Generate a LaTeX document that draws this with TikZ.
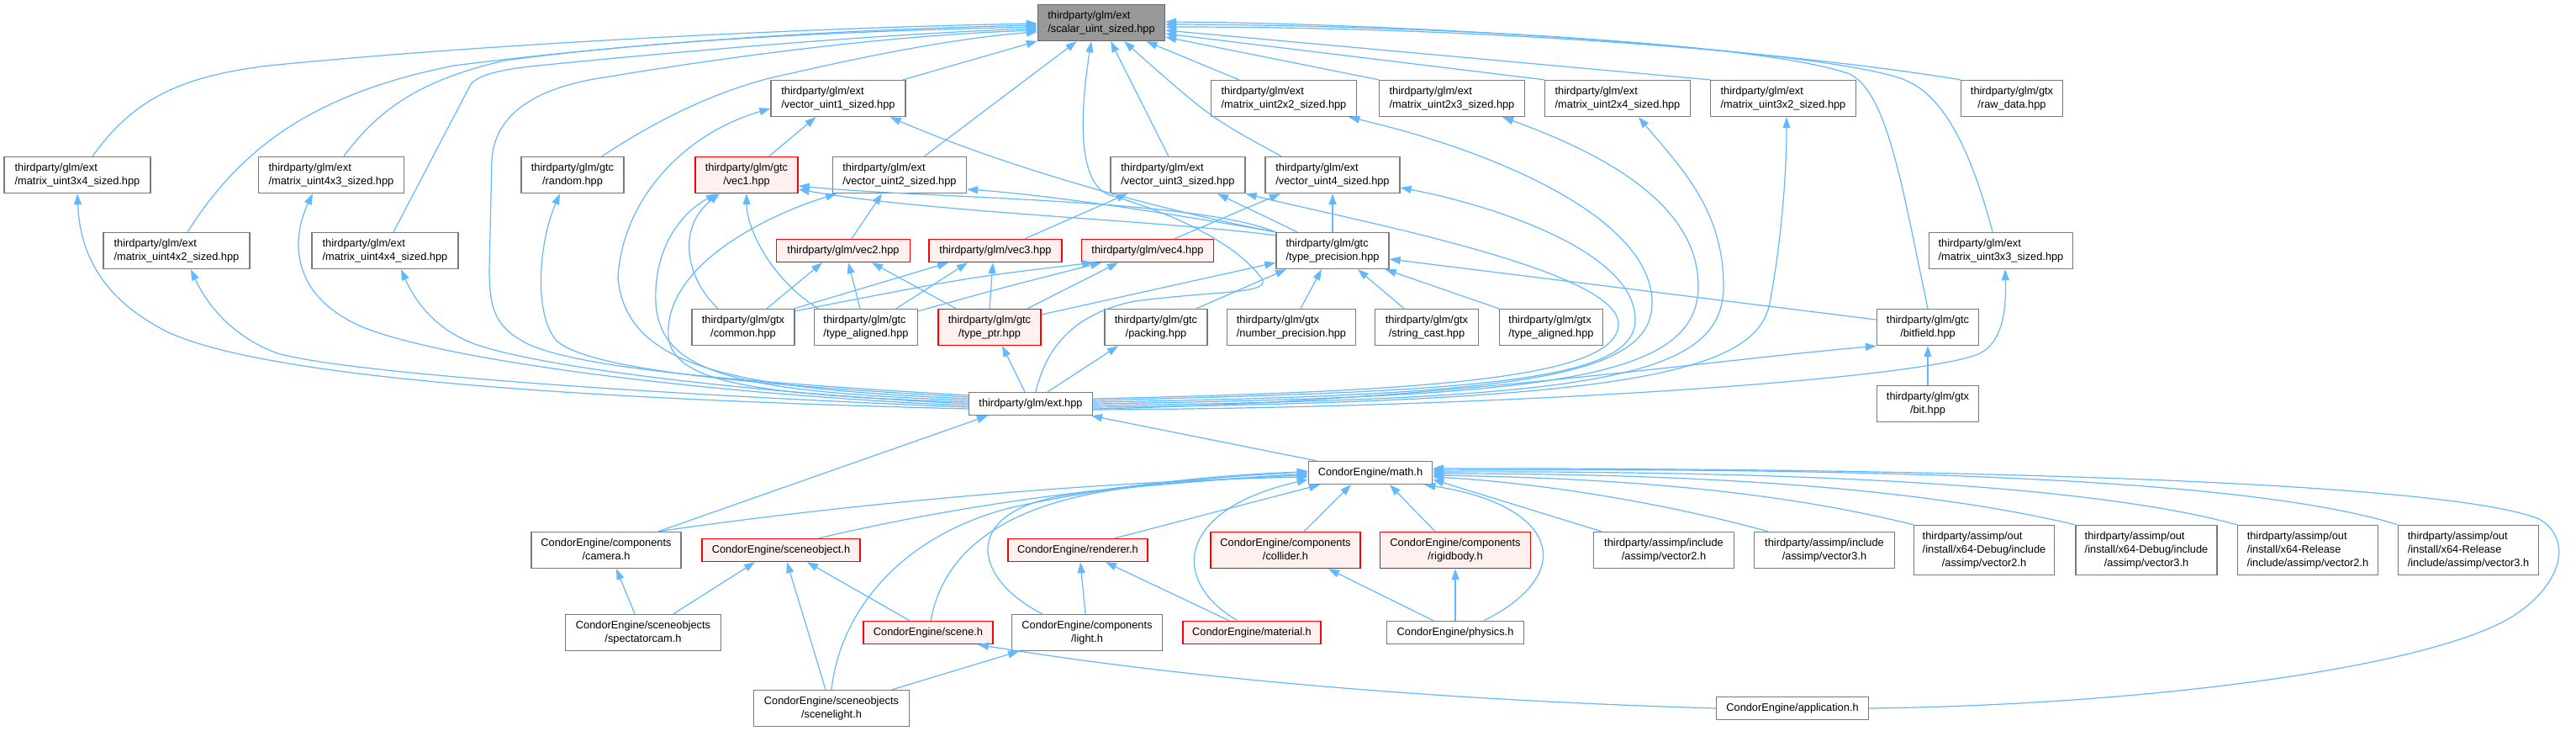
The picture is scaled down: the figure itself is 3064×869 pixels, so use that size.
\documentclass[tikz,border=0pt]{standalone}
\usepackage{fontspec}
\setmainfont{Liberation Sans}
\usetikzlibrary{arrows.meta}
\definecolor{edgeblue}{HTML}{63B8FF}
\definecolor{nborder}{HTML}{7A7A7A}
\definecolor{rootfill}{HTML}{999999}
\definecolor{rootborder}{HTML}{666666}
\definecolor{redfill}{HTML}{FFF0F0}
\definecolor{redborder}{HTML}{FF0000}
\newcommand\nodefont{\fontsize{12.8pt}{16pt}\selectfont}
\newcommand\twol[2]{\begin{tabular}{@{}l@{}}#1\\\multicolumn{1}{@{}c@{}}{#2}\end{tabular}}
\newcommand\threel[3]{\begin{tabular}{@{}l@{}}#1\\#2\\\multicolumn{1}{@{}c@{}}{#3}\end{tabular}}
\tikzset{
  nbox/.style={draw=nborder, fill=white, line width=1.4pt, inner sep=0pt, minimum height=43pt, font=\nodefont, align=center},
  rbox/.style={nbox, draw=redborder, fill=redfill},
  sline/.style={minimum height=27pt},
  tline/.style={minimum height=59pt},
  link/.style={draw=edgeblue, line width=1.2pt, -{Triangle[length=13pt,width=9pt]}}
}
\begin{document}
\begin{tikzpicture}[x=1pt,y=-1pt]
\useasboundingbox[fill=white] (0,0) rectangle (3064,869);
% ---------- nodes ----------
\node[nbox,minimum width=151pt,fill=rootfill,draw=rootborder] (scalar) at (1310,27) {\twol{thirdparty/glm/ext}{/scalar\_uint\_sized.hpp}};
\node[nbox,minimum width=160pt] (vu1) at (997,117) {\twol{thirdparty/glm/ext}{/vector\_uint1\_sized.hpp}};
\node[nbox,minimum width=173pt] (m2x2) at (1527,117) {\twol{thirdparty/glm/ext}{/matrix\_uint2x2\_sized.hpp}};
\node[nbox,minimum width=173pt] (m2x3) at (1727,117) {\twol{thirdparty/glm/ext}{/matrix\_uint2x3\_sized.hpp}};
\node[nbox,minimum width=173pt] (m2x4) at (1924,117) {\twol{thirdparty/glm/ext}{/matrix\_uint2x4\_sized.hpp}};
\node[nbox,minimum width=173pt] (m3x2) at (2121,117) {\twol{thirdparty/glm/ext}{/matrix\_uint3x2\_sized.hpp}};
\node[nbox,minimum width=121pt] (raw) at (2393,117) {\twol{thirdparty/glm/gtx}{/raw\_data.hpp}};
\node[nbox,minimum width=174pt] (m3x4) at (92,208) {\twol{thirdparty/glm/ext}{/matrix\_uint3x4\_sized.hpp}};
\node[nbox,minimum width=173pt] (m4x3) at (394,208) {\twol{thirdparty/glm/ext}{/matrix\_uint4x3\_sized.hpp}};
\node[nbox,minimum width=122pt] (random) at (681,208) {\twol{thirdparty/glm/gtc}{/random.hpp}};
\node[rbox,minimum width=122pt] (vec1) at (888,208) {\twol{thirdparty/glm/gtc}{/vec1.hpp}};
\node[nbox,minimum width=159pt] (vu2) at (1070,208) {\twol{thirdparty/glm/ext}{/vector\_uint2\_sized.hpp}};
\node[nbox,minimum width=160pt] (vu3) at (1401,208) {\twol{thirdparty/glm/ext}{/vector\_uint3\_sized.hpp}};
\node[nbox,minimum width=160pt] (vu4) at (1585,208) {\twol{thirdparty/glm/ext}{/vector\_uint4\_sized.hpp}};
\node[nbox,minimum width=174pt] (m4x2) at (210,298) {\twol{thirdparty/glm/ext}{/matrix\_uint4x2\_sized.hpp}};
\node[nbox,minimum width=174pt] (m4x4) at (458,298) {\twol{thirdparty/glm/ext}{/matrix\_uint4x4\_sized.hpp}};
\node[rbox,sline,minimum width=159pt] (vec2) at (1003,298) {thirdparty/glm/vec2.hpp};
\node[rbox,sline,minimum width=158pt] (vec3) at (1184,298) {thirdparty/glm/vec3.hpp};
\node[rbox,sline,minimum width=157pt] (vec4) at (1365,298) {thirdparty/glm/vec4.hpp};
\node[nbox,minimum width=134pt] (tprec) at (1585,298) {\twol{thirdparty/glm/gtc}{/type\_precision.hpp}};
\node[nbox,minimum width=171pt] (m3x3) at (2380,298) {\twol{thirdparty/glm/ext}{/matrix\_uint3x3\_sized.hpp}};
\node[nbox,minimum width=122pt] (common) at (884,389) {\twol{thirdparty/glm/gtx}{/common.hpp}};
\node[nbox,minimum width=123pt] (taligned) at (1030,389) {\twol{thirdparty/glm/gtc}{/type\_aligned.hpp}};
\node[rbox,minimum width=122pt] (tptr) at (1177,389) {\twol{thirdparty/glm/gtc}{/type\_ptr.hpp}};
\node[nbox,minimum width=122pt] (packing) at (1375,389) {\twol{thirdparty/glm/gtc}{/packing.hpp}};
\node[nbox,minimum width=153pt] (numprec) at (1536,389) {\twol{thirdparty/glm/gtx}{/number\_precision.hpp}};
\node[nbox,minimum width=123pt] (strcast) at (1697,389) {\twol{thirdparty/glm/gtx}{/string\_cast.hpp}};
\node[nbox,minimum width=123pt] (gtxta) at (1845,389) {\twol{thirdparty/glm/gtx}{/type\_aligned.hpp}};
\node[nbox,minimum width=121pt] (bitfield) at (2293,389) {\twol{thirdparty/glm/gtc}{/bitfield.hpp}};
\node[nbox,sline,minimum width=147pt] (ext) at (1226,480) {thirdparty/glm/ext.hpp};
\node[nbox,minimum width=121pt] (bit) at (2293,480) {\twol{thirdparty/glm/gtx}{/bit.hpp}};
\node[nbox,sline,minimum width=147pt] (math) at (1630,562) {CondorEngine/math.h};
\node[nbox,minimum width=178pt] (camera) at (721,654) {\twol{CondorEngine/components}{/camera.h}};
\node[rbox,sline,minimum width=188pt] (sceneobj) at (929,654) {CondorEngine/sceneobject.h};
\node[rbox,sline,minimum width=166pt] (renderer) at (1282,654) {CondorEngine/renderer.h};
\node[rbox,minimum width=178pt] (collider) at (1529,654) {\twol{CondorEngine/components}{/collider.h}};
\node[rbox,minimum width=179pt] (rigidbody) at (1731,654) {\twol{CondorEngine/components}{/rigidbody.h}};
\node[nbox,minimum width=167pt] (asv2) at (1979,654) {\twol{thirdparty/assimp/include}{/assimp/vector2.h}};
\node[nbox,minimum width=167pt] (asv3) at (2170,654) {\twol{thirdparty/assimp/include}{/assimp/vector3.h}};
\node[nbox,tline,minimum width=167pt] (dbg2) at (2360,654) {\threel{thirdparty/assimp/out}{/install/x64-Debug/include}{/assimp/vector2.h}};
\node[nbox,tline,minimum width=168pt] (dbg3) at (2553,654) {\threel{thirdparty/assimp/out}{/install/x64-Debug/include}{/assimp/vector3.h}};
\node[nbox,tline,minimum width=167pt] (rel2) at (2745,654) {\threel{thirdparty/assimp/out}{/install/x64-Release}{/include/assimp/vector2.h}};
\node[nbox,tline,minimum width=167pt] (rel3) at (2936,654) {\threel{thirdparty/assimp/out}{/install/x64-Release}{/include/assimp/vector3.h}};
\node[nbox,minimum width=185pt] (spect) at (765,752) {\twol{CondorEngine/sceneobjects}{/spectatorcam.h}};
\node[rbox,sline,minimum width=154pt] (scene) at (1104,752) {CondorEngine/scene.h};
\node[nbox,minimum width=179pt] (light) at (1293,752) {\twol{CondorEngine/components}{/light.h}};
\node[rbox,sline,minimum width=164pt] (material) at (1489,752) {CondorEngine/material.h};
\node[nbox,sline,minimum width=163pt] (physics) at (1731,752) {CondorEngine/physics.h};
\node[nbox,minimum width=185pt] (scenelight) at (989,842) {\twol{CondorEngine/sceneobjects}{/scenelight.h}};
\node[nbox,sline,minimum width=181pt] (app) at (2132,842) {CondorEngine/application.h};
% ---------- edges into scalar ----------
\draw[link] ([xshift=18pt]m3x4.north) .. controls (160,115) and (220,90) .. (320,78) .. controls (600,50) and (1000,32) .. ([yshift=-1pt]scalar.west);
\draw[link] ([xshift=13pt]m4x2.north) .. controls (290,170) and (380,110) .. (540,78) .. controls (800,45) and (1050,34) .. ([yshift=-3pt]scalar.west);
\draw[link] ([xshift=15pt]m4x3.north) .. controls (450,130) and (500,95) .. (600,72) .. controls (800,45) and (1050,36) .. ([yshift=-5pt]scalar.west);
\draw[link] ([xshift=10pt]m4x4.north) -- (560,100) .. controls (570,88) and (600,82) .. (640,78) .. controls (800,62) and (1050,40) .. ([yshift=-7pt]scalar.west);
\draw[link] ([yshift=10pt]ext.west) .. controls (900,455) and (700,440) .. (630,410) .. controls (590,390) and (582,370) .. (582,320) -- (585,190) .. controls (588,140) and (630,105) .. (719,92) .. controls (850,70) and (1050,42) .. ([yshift=-9pt]scalar.west);
\draw[link] ([xshift=35pt]random.north) .. controls (770,150) and (850,105) .. (942,87) .. controls (1050,62) and (1150,44) .. ([yshift=-11pt]scalar.west);
\draw[link] (vu1) -- (scalar);
\draw[link] (vu2) -- (scalar);
\draw[link] (vu3) -- (scalar);
\draw[link] ([xshift=20pt]vu4.north west) .. controls (1440,140) .. ([xshift=27pt]scalar.south);
\draw[link] (m2x2) -- (scalar);
\draw[link] (m2x3.north west) -- ([yshift=-17pt]scalar.east);
\draw[link] (m2x4.north west) -- ([yshift=-13pt]scalar.east);
\draw[link] (m3x2.north west) -- ([yshift=-9pt]scalar.east);
\draw[link] (raw.north west) .. controls (2150,65) and (1800,32) .. ([yshift=-5pt]scalar.east);
\draw[link] (bitfield.north) .. controls (2262,220) and (2245,110) .. (2200,88) .. controls (2100,52) and (1700,30) .. ([yshift=-2pt]scalar.east);
\draw[link] ([xshift=-10pt]m3x3.north) .. controls (2350,200) and (2320,120) .. (2270,97) .. controls (2200,62) and (1700,28) .. ([yshift=1pt]scalar.east);
\draw[link] ([xshift=6pt]ext.north) .. controls (1245,410) and (1280,372) .. (1350,358) .. controls (1450,345) and (1515,350) .. (1500,330) .. controls (1470,290) and (1400,255) .. (1320,232) .. controls (1285,220) and (1282,150) .. ([xshift=-12pt]scalar.south);
% ---------- ext fan, left ----------
\draw[link] ([yshift=8pt]ext.west) .. controls (900,458) and (700,440) .. (662,405) .. controls (635,375) and (640,290) .. ([xshift=-15pt]random.south);
\draw[link] ([yshift=6pt]ext.west) .. controls (880,462) and (745,440) .. (735,330) .. controls (740,240) and (810,160) .. ([yshift=-12pt]vu1.west);
\draw[link] ([yshift=4pt]ext.west) .. controls (880,466) and (785,445) .. (780,360) .. controls (777,290) and (815,250) .. ([xshift=-35pt]vec1.south);
\draw[link] ([yshift=2pt]ext.west) .. controls (900,470) and (800,455) .. (795,400) .. controls (790,320) and (900,260) .. ([xshift=-75pt]vu2.south);
\draw[link] (ext.west) .. controls (900,468) and (620,435) .. (555,405) .. controls (510,385) and (490,350) .. ([xshift=19pt]m4x4.south);
\draw[link] ([yshift=-2pt]ext.west) .. controls (850,470) and (480,425) .. (410,378) .. controls (345,340) and (348,280) .. ([xshift=-22pt]m4x3.south);
\draw[link] ([yshift=-4pt]ext.west) .. controls (800,470) and (420,445) .. (330,420) .. controls (275,400) and (245,360) .. ([xshift=17pt]m4x2.south);
\draw[link] ([yshift=-6pt]ext.west) .. controls (700,475) and (320,450) .. (200,395) .. controls (120,355) and (95,300) .. (m3x4.south);
% ---------- ext fan, right ----------
\draw[link] ([yshift=6pt]ext.east) .. controls (1700,465) and (1925,450) .. (1925,385) .. controls (1925,320) and (1600,260) .. (vu3.south east);
\draw[link] ([yshift=4pt]ext.east) .. controls (1750,465) and (1945,455) .. (1945,380) .. controls (1945,300) and (1780,245) .. ([yshift=-15pt]vu4.east);
\draw[link] ([yshift=2pt]ext.east) .. controls (1800,470) and (1965,450) .. (1965,360) .. controls (1965,260) and (1780,180) .. ([xshift=-10pt]m2x2.south east);
\draw[link] (ext.east) .. controls (1850,472) and (2020,450) .. (2020,340) .. controls (2020,240) and (1900,180) .. ([xshift=60pt]m2x3.south);
\draw[link] ([yshift=-2pt]ext.east) .. controls (1900,475) and (2050,450) .. (2050,340) .. controls (2050,250) and (2000,200) .. ([xshift=25pt]m2x4.south);
\draw[link] ([yshift=-4pt]ext.east) .. controls (1950,478) and (2090,440) .. (2105,360) .. controls (2120,280) and (2125,200) .. ([xshift=4pt]m3x2.south);
\draw[link] ([yshift=-6pt]ext.east) .. controls (1700,478) and (2000,432) .. (bitfield.south west);
\draw[link] ([yshift=-7pt]ext.east) .. controls (1800,485) and (2290,450) .. (2355,420) .. controls (2385,405) and (2386,360) .. ([xshift=5pt]m3x3.south);
\draw[link] ([xshift=-7pt]ext.north) -- ([xshift=15pt]tptr.south);
\draw[link] ([xshift=20pt]ext.north) -- ([xshift=-45pt]packing.south);
\draw[link] (bit) -- (bitfield);
\draw[link] ([yshift=9pt]bitfield.west) -- ([yshift=-10pt]tprec.east);
% ---------- type_precision ----------
\draw[link] (tprec.north) -- (vu4.south);
\draw[link] ([xshift=-42pt]tprec.north) -- ([xshift=47pt]vu3.south);
\draw[link] (tprec.north west) .. controls (1400,255) and (1250,232) .. ([yshift=-17pt]vu2.east);
\draw[link] (tprec.north west) .. controls (1380,250) and (1200,200) .. ([xshift=-19pt]vu1.south east);
\draw[link] (tprec.north west) .. controls (1420,236) and (1100,236) .. ([yshift=-13pt]vec1.east);
\draw[link] ([yshift=-4pt]tprec.north west) .. controls (1380,262) and (1100,252) .. ([yshift=-17pt]vec1.east);
\draw[link] ([xshift=48pt]packing.north) -- ([xshift=-55pt]tprec.south);
\draw[link] ([xshift=11pt]numprec.north) -- ([xshift=-13pt]tprec.south);
\draw[link] ([xshift=-27pt]strcast.north) -- ([xshift=30pt]tprec.south);
\draw[link] (gtxta.north west) -- ([xshift=-5pt]tprec.south east);
% ---------- vec / vector_uint ----------
\draw[link] (vec1) -- (vu1);
\draw[link] ([xshift=10pt]vec2.north) -- ([xshift=-21pt]vu2.south);
\draw[link] ([xshift=35pt]vec3.north) -- ([xshift=-60pt]vu3.south);
\draw[link] ([xshift=32pt]vec4.north) -- ([xshift=-62pt]vu4.south);
% ---------- common / type_aligned / type_ptr ----------
\draw[link] ([xshift=-30pt]common.north) .. controls (815,330) and (805,270) .. ([xshift=-32pt]vec1.south);
\draw[link] ([xshift=28pt]common.north) -- ([xshift=-25pt]vec2.south);
\draw[link] ([xshift=-1pt]common.north east) -- ([xshift=-56pt]vec3.south);
\draw[link] ([yshift=-3pt]common.north east) .. controls (1150,330) .. ([xshift=-65pt]vec4.south);
\draw[link] ([xshift=-57pt]taligned.north) .. controls (915,330) and (888,270) .. (vec1.south);
\draw[link] ([xshift=-7pt]taligned.north) -- ([xshift=6pt]vec2.south);
\draw[link] ([xshift=36pt]taligned.north) -- ([xshift=-33pt]vec3.south);
\draw[link] ([yshift=-3pt]taligned.north east) .. controls (1200,340) .. ([xshift=-55pt]vec4.south);
\draw[link] ([xshift=-40pt]tptr.north) -- ([xshift=34pt]vec2.south);
\draw[link] (tptr.north) -- ([xshift=-3pt]vec3.south);
\draw[link] ([xshift=45pt]tptr.north) -- ([xshift=-35pt]vec4.south);
\draw[link] ([yshift=15pt]tptr.east) -- ([yshift=8pt]tprec.south west);
% ---------- lower part ----------
\draw[link] ([xshift=62pt]camera.north) -- ([xshift=-51pt]ext.south);
\draw[link] ([xshift=-64pt]math.north) -- ([xshift=72pt]ext.south);
\draw[link] ([xshift=62pt]camera.north) .. controls (1000,600) and (1300,572) .. ([yshift=-5pt]math.west);
\draw[link] ([xshift=45pt]sceneobj.north) .. controls (1150,598) and (1350,572) .. ([yshift=-3pt]math.west);
\draw[link] ([xshift=3pt]scene.north) .. controls (1125,640) and (1220,592) .. (1360,578) .. controls (1450,570) and (1520,565) .. ([yshift=-1pt]math.west);
\draw[link] (scenelight.north) .. controls (1000,720) and (1080,632) .. (1209,602) .. controls (1350,572) and (1480,563) .. ([yshift=1pt]math.west);
\draw[link] ([xshift=-53pt]light.north) .. controls (1160,690) and (1140,612) .. (1260,590) .. controls (1380,570) and (1500,565) .. ([yshift=2pt]math.west);
\draw[link] ([xshift=44pt]renderer.north) -- ([xshift=-60pt]math.south);
\draw[link] ([xshift=-17pt]material.north) .. controls (1390,690) and (1400,605) .. ([yshift=-8pt]math.west);
\draw[link] ([xshift=22pt]collider.north) -- ([xshift=-23pt]math.south);
\draw[link] ([xshift=-24pt]rigidbody.north) -- ([xshift=23pt]math.south);
\draw[link] ([xshift=34pt]physics.north) .. controls (1880,680) and (1850,600) .. ([xshift=-10pt]math.south east);
\draw[link] ([xshift=-74pt]asv2.north) -- ([yshift=-8pt]math.east);
\draw[link] ([xshift=-67pt]asv3.north) .. controls (1950,590) and (1800,572) .. ([yshift=-5pt]math.east);
\draw[link] (dbg2.north west) .. controls (2100,580) and (1900,568) .. ([yshift=-3pt]math.east);
\draw[link] (dbg3.north west) .. controls (2250,572) and (1950,563) .. ([yshift=-1pt]math.east);
\draw[link] (rel2.north west) .. controls (2450,566) and (2000,560) .. ([yshift=1pt]math.east);
\draw[link] (rel3.north west) .. controls (2650,560) and (2100,557) .. ([yshift=3pt]math.east);
\draw[link] (app.east) .. controls (2550,838) and (2880,795) .. (2985,735) .. controls (3050,695) and (3060,640) .. (3020,617) .. controls (2900,568) and (2200,556) .. ([yshift=5pt]math.east);
\draw[link] (app.west) .. controls (1700,832) and (1400,805) .. ([xshift=59pt]scene.south);
\draw[link] ([xshift=-10pt]spect.north) -- ([xshift=12pt]camera.south);
\draw[link] ([xshift=36pt]spect.north) -- ([xshift=-31pt]sceneobj.south);
\draw[link] ([xshift=-7pt]scenelight.north) -- ([xshift=7pt]sceneobj.south);
\draw[link] ([xshift=-22pt]scene.north) -- ([xshift=31pt]sceneobj.south);
\draw[link] ([xshift=-2pt]light.north) -- ([xshift=3pt]renderer.south);
\draw[link] ([xshift=-27pt]material.north) -- ([xshift=33pt]renderer.south);
\draw[link] ([xshift=72pt]scenelight.north) -- ([xshift=-81pt]light.south);
\draw[link] ([xshift=-26pt]physics.north) -- ([xshift=51pt]collider.south);
\draw[link] (physics.north) -- (rigidbody.south);
\end{tikzpicture}
\end{document}
